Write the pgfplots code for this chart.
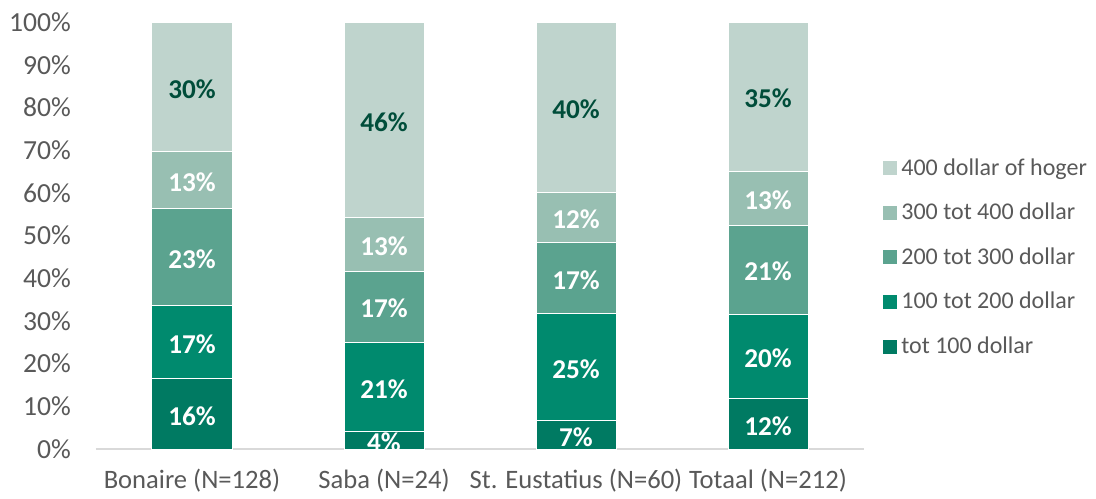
\documentclass[border=0pt]{standalone}
\usepackage{pgfplots}
\pgfplotsset{compat=1.18}
\usepackage{fontspec}
\setmainfont{Carlito}
\definecolor{cA}{HTML}{007A62}
\definecolor{cB}{HTML}{008A6E}
\definecolor{cC}{HTML}{5BA38F}
\definecolor{cD}{HTML}{98BFB2}
\definecolor{cE}{HTML}{BFD4CD}
\definecolor{txt}{HTML}{595959}
\definecolor{dark}{HTML}{004D3A}
\begin{document}
\begin{tikzpicture}
\begin{axis}[
  at={(0,0)}, anchor=south west,
  scale only axis, width=384pt, height=213.5pt,
  ybar stacked, bar width=40pt,
  xmin=-0.5, xmax=3.5, ymin=0, ymax=100,
  xtick={0,1,2,3},
  xticklabels={Bonaire (N=128), Saba (N=24), St. Eustatius (N=60), Totaal (N=212)},
  ytick={0,10,...,100},
  yticklabels={0\%,10\%,20\%,30\%,40\%,50\%,60\%,70\%,80\%,90\%,100\%},
  axis x line*=bottom, axis y line*=left,
  x axis line style={draw=black!15, line width=0.6pt},
  y axis line style={draw=none},
  tick style={draw=none},
  ticklabel style={font=\fontsize{13.3}{16}\selectfont, text=txt},
  yticklabel style={xshift=-9pt, font=\fontsize{13.8}{16}\selectfont},
  xticklabel style={yshift=-6.5pt},
  legend image code/.code={\fill[#1,draw=none] (0pt,-3.5pt) rectangle (7pt,3.5pt);},
  reverse legend,
  legend cell align=left,
  legend style={at={(1.0247,0.4485)}, anchor=west, draw=none, fill=none, inner sep=0pt,
    font=\fontsize{12}{14}\selectfont, text=txt, row sep=8.5pt},
]
\addplot[fill=cA, draw=white, line width=0.5pt] coordinates {(0,16.4) (1,4.17) (2,6.67) (3,11.8)};
\addlegendentry{tot 100 dollar}
\addplot[fill=cB, draw=white, line width=0.5pt] coordinates {(0,17.2) (1,20.83) (2,25.0) (3,19.8)};
\addlegendentry{100 tot 200 dollar}
\addplot[fill=cC, draw=white, line width=0.5pt] coordinates {(0,22.7) (1,16.67) (2,16.67) (3,20.8)};
\addlegendentry{200 tot 300 dollar}
\addplot[fill=cD, draw=white, line width=0.5pt] coordinates {(0,13.3) (1,12.5) (2,11.67) (3,12.7)};
\addlegendentry{300 tot 400 dollar}
\addplot[fill=cE, draw=white, line width=0.5pt] coordinates {(0,30.4) (1,45.83) (2,39.99) (3,34.9)};
\addlegendentry{400 dollar of hoger}
\end{axis}
\begin{axis}[
  at={(0,0)}, anchor=south west,
  scale only axis, width=384pt, height=213.5pt,
  xmin=-0.5, xmax=3.5, ymin=0, ymax=100,
  hide axis,
  nodes near coords, point meta=explicit symbolic,
  every node near coord/.append style={font=\bfseries\fontsize{13.6}{15}\selectfont, anchor=center, inner sep=0pt, yshift=-1pt},
]
\addplot[only marks, mark=none, every node near coord/.append style={text=white}] coordinates {
  (0,8.2)[16\%] (0,25.0)[17\%] (0,44.95)[23\%] (0,62.95)[13\%]
  (1,2.08)[4\%] (1,14.58)[21\%] (1,33.33)[17\%] (1,47.92)[13\%]
  (2,3.33)[7\%] (2,19.17)[25\%] (2,40.0)[17\%] (2,54.17)[12\%]
  (3,5.9)[12\%] (3,21.7)[20\%] (3,42.0)[21\%] (3,58.75)[13\%]
};
\addplot[only marks, mark=none, every node near coord/.append style={text=dark}] coordinates {
  (0,84.8)[30\%] (1,77.08)[46\%] (2,80.0)[40\%] (3,82.55)[35\%]
};
\end{axis}
\path[use as bounding box] (-48pt,-24.5pt) rectangle (500pt,224.5pt);
\end{tikzpicture}
\end{document}
